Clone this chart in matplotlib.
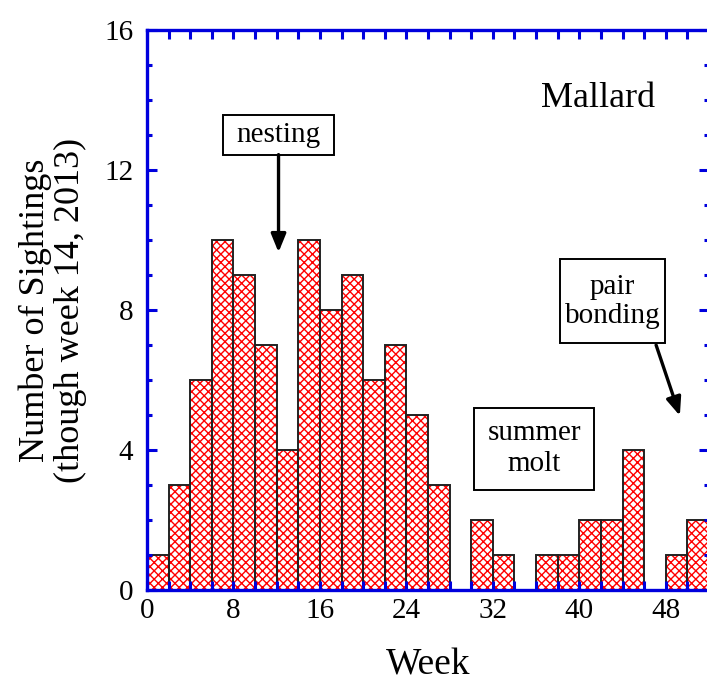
import numpy as np
import matplotlib.pyplot as plt
from matplotlib.patches import Rectangle
from matplotlib.ticker import MultipleLocator

plt.rcParams['font.family'] = ['Liberation Serif', 'DejaVu Serif']
plt.rcParams['hatch.linewidth'] = 1.0

# weekly bins (2-week wide), left edge of each bin
week_start = [0, 2, 4, 6, 8, 10, 12, 14, 16, 18, 20, 22, 24, 26,
              28, 30, 32, 34, 36, 38, 40, 42, 44, 46, 48, 50]
sightings = [1, 3, 6, 10, 9, 7, 4, 10, 8, 9, 6, 7, 5, 3,
             0, 2, 1, 0, 1, 1, 2, 2, 4, 0, 1, 2]

x_ticks = [0, 8, 16, 24, 32, 40, 48]
y_ticks = [0, 4, 8, 12, 16]

blue = '#0000dd'

fig = plt.figure(figsize=(7.07, 6.84), dpi=100)
ax = fig.add_axes([0.2079, 0.1374, 0.795, 0.8187])

# red hatch, then black outlines on top
ax.bar(week_start, sightings, width=2, align='edge', color='white',
       edgecolor='red', hatch='xxxx', linewidth=0, zorder=1)
ax.bar(week_start, sightings, width=2, align='edge', fill=False,
       edgecolor='#222222', linewidth=1.4, zorder=1.2)

ax.set_xlim(0, 52)
ax.set_ylim(0, 16)
ax.set_xticks(x_ticks)
ax.set_yticks(y_ticks)
ax.xaxis.set_minor_locator(MultipleLocator(2))
ax.yaxis.set_minor_locator(MultipleLocator(1))

for s in ax.spines.values():
    s.set_color(blue)
    s.set_linewidth(2.4)

ax.tick_params(which='both', direction='in', top=True, right=True,
               color=blue, width=2.2, labelsize=21, labelcolor='black')
ax.tick_params(axis='x', which='both', length=6.5, pad=6)
ax.tick_params(axis='y', which='major', length=7.5, pad=10)
ax.tick_params(axis='y', which='minor', length=3.5)

ax.set_xlabel('Week', fontsize=27, labelpad=17)
ax.set_ylabel('Number of Sightings\n(though week 14, 2013)', fontsize=26,
              labelpad=12, linespacing=1.1)

ax.text(41.7, 14.04, 'Mallard', fontsize=26, ha='center', va='center')

arrow = dict(arrowstyle='-|>,head_length=1.1,head_width=0.45', color='black',
             lw=2.4, shrinkA=0, shrinkB=0)

# annotation boxes (x0, y0, w, h) in data units
ax.add_patch(Rectangle((7.03, 12.44), 10.27, 1.14, fc='white', ec='black',
                       lw=1.4, zorder=3))
ax.text(12.17, 13.0, 'nesting', fontsize=21, ha='center', va='center', zorder=4)
ax.annotate('', xy=(12.17, 9.65), xytext=(12.17, 12.44), arrowprops=arrow)

ax.add_patch(Rectangle((30.3, 2.85), 11.1, 2.36, fc='white', ec='black',
                       lw=1.4, zorder=3))
ax.text(35.85, 4.03, 'summer\nmolt', fontsize=21, ha='center', va='center',
        linespacing=1.25, zorder=4)

ax.add_patch(Rectangle((38.2, 7.06), 9.7, 2.39, fc='white', ec='black',
                       lw=1.4, zorder=3))
ax.text(43.05, 8.25, 'pair\nbonding', fontsize=21, ha='center', va='center',
        linespacing=1.15, zorder=4)
ax.annotate('', xy=(49.3, 4.98), xytext=(47.1, 7.0), arrowprops=arrow)

plt.savefig('out.png', dpi=100)
